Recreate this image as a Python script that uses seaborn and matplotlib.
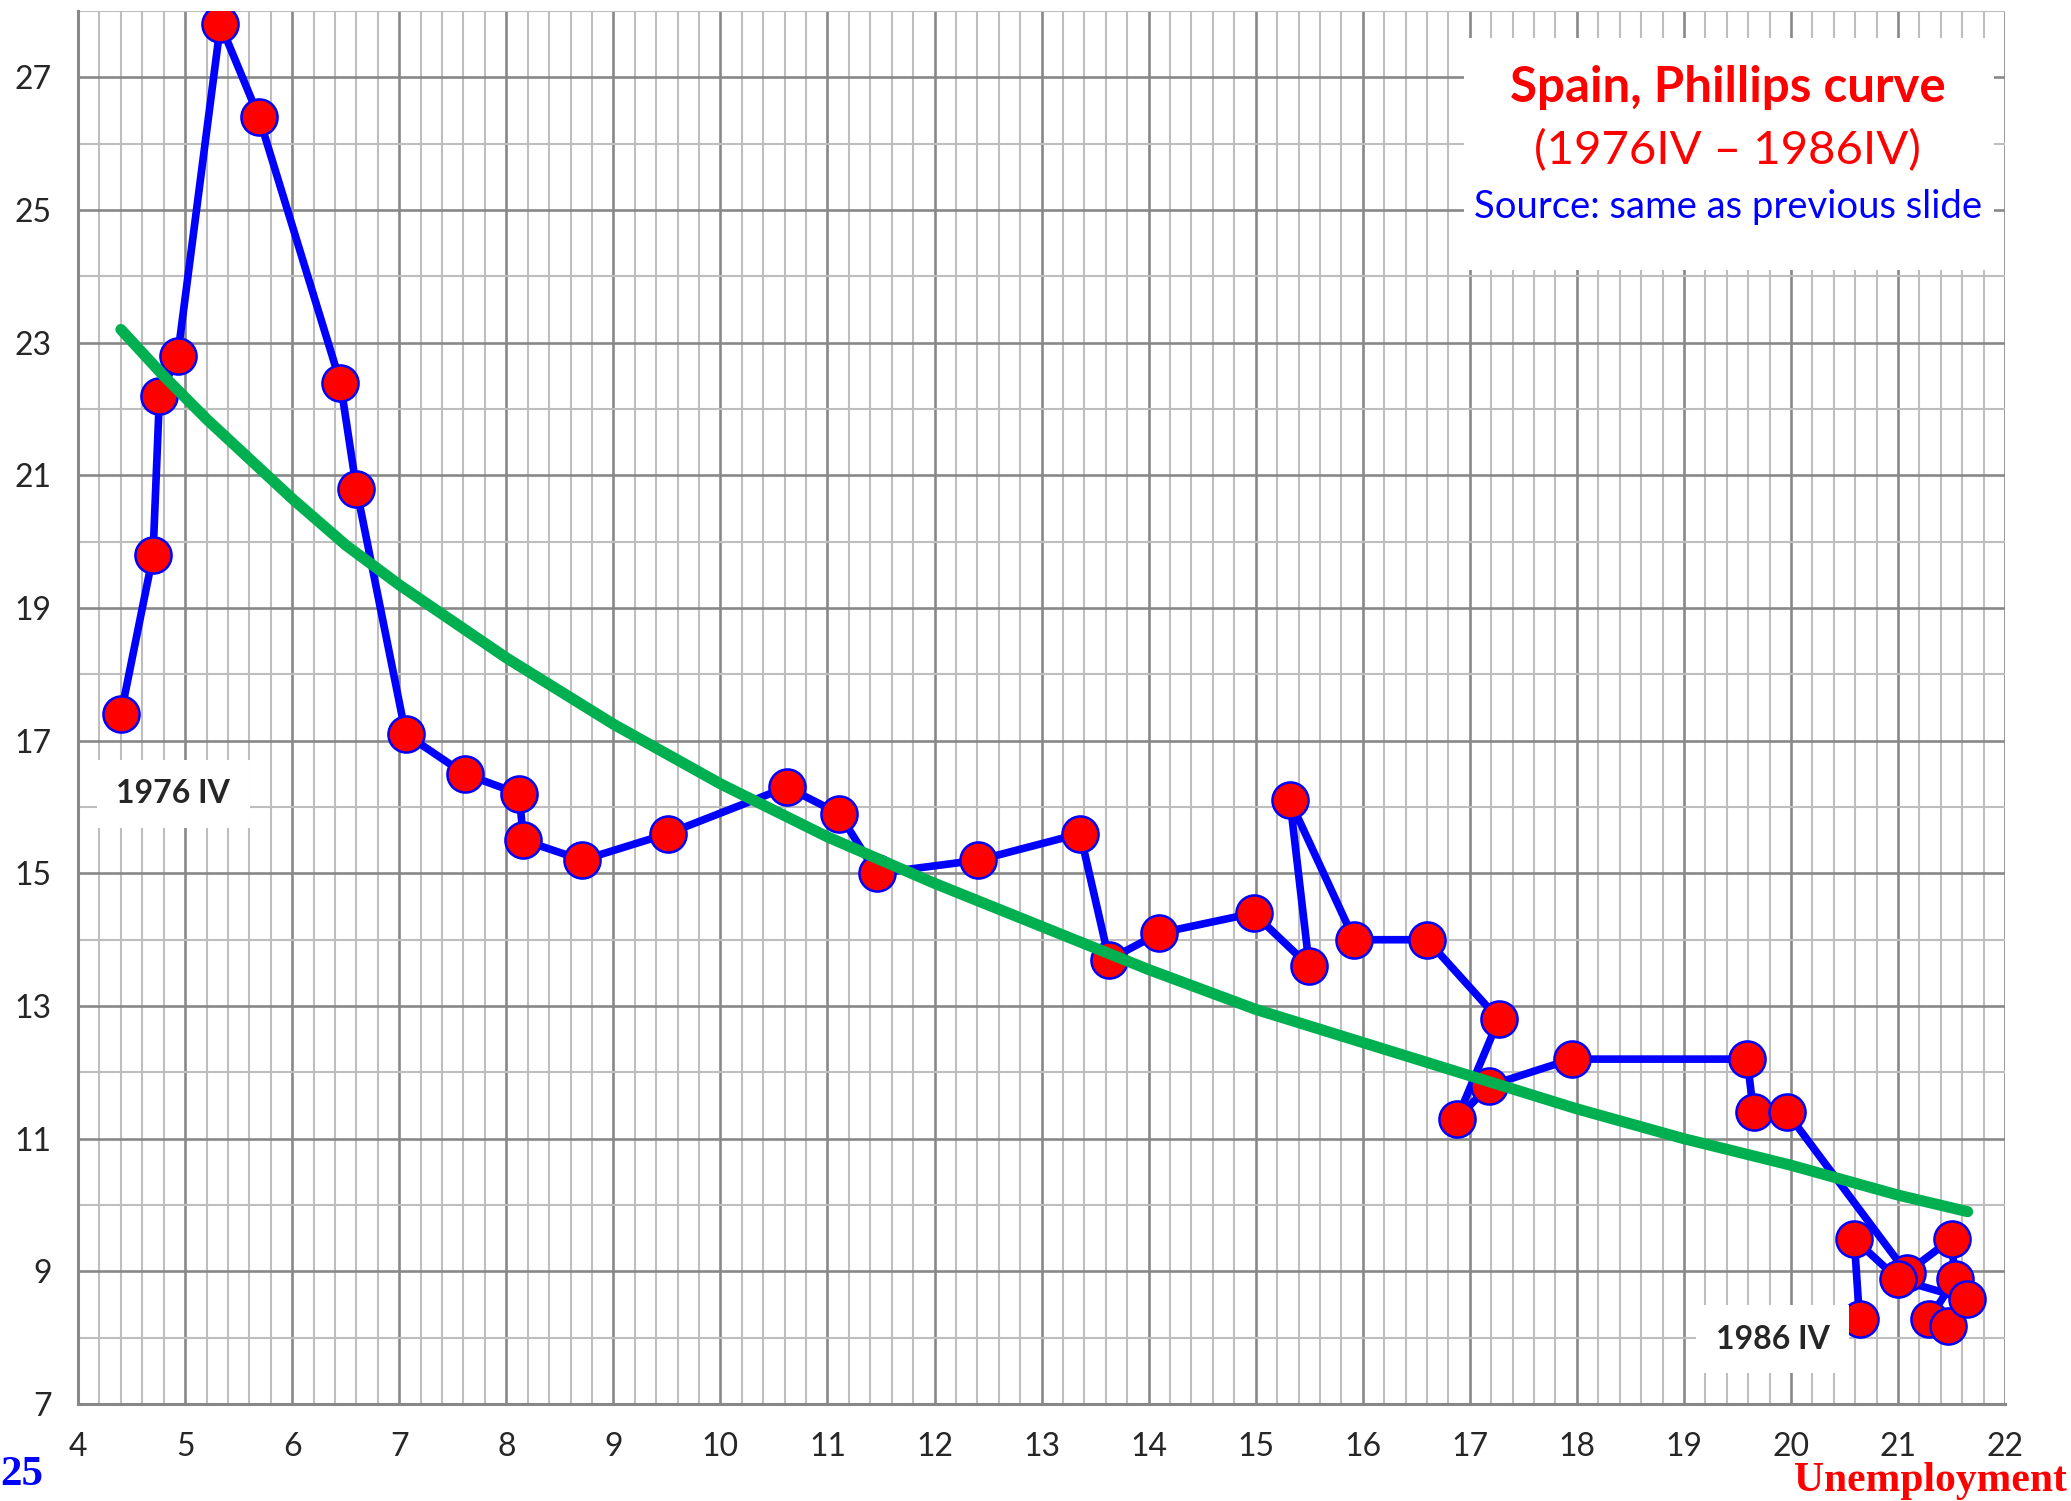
import numpy as np
import pandas as pd
import matplotlib
matplotlib.use("Agg")
import matplotlib.pyplot as plt
from matplotlib.ticker import MultipleLocator, FixedLocator
from matplotlib.patches import Rectangle
import seaborn as sns

# Spain quarterly path, 1976 IV -> 1986 IV (unemployment %, inflation %)
unemployment = [4.4, 4.7, 4.76, 4.93, 5.33, 5.69, 6.45, 6.6, 7.06, 7.61,
                8.12, 8.16, 8.71, 9.51, 10.62, 11.11, 11.46, 12.41, 13.36, 13.63,
                14.1, 14.98, 15.5, 15.32, 15.92, 16.6, 17.27, 16.88, 17.18, 17.95,
                19.59, 19.65, 19.96, 21.08, 21.5, 21.53, 21.29, 21.47, 21.64, 21.0,
                20.59, 20.64]
inflation = [17.4, 19.8, 22.2, 22.8, 27.8, 26.4, 22.4, 20.8, 17.1, 16.5,
             16.2, 15.5, 15.2, 15.6, 16.3, 15.9, 15.0, 15.2, 15.6, 13.7,
             14.1, 14.4, 13.6, 16.1, 14.0, 14.0, 12.8, 11.3, 11.8, 12.2,
             12.2, 11.4, 11.4, 8.98, 9.49, 8.88, 8.28, 8.18, 8.58, 8.88,
             9.49, 8.28]

# fitted trend
trend_x = [4.4, 4.8, 5.2, 5.6, 6.0, 6.5, 7.0, 7.5, 8.0, 9.0, 10.0, 11.0, 12.0,
           13.0, 14.0, 15.0, 16.0, 17.0, 18.0, 19.0, 20.0, 21.0, 21.65]
trend_y = [23.2, 22.5, 21.85, 21.25, 20.65, 19.95, 19.35, 18.8, 18.25, 17.25,
           16.35, 15.55, 14.85, 14.2, 13.55, 12.95, 12.45, 11.95, 11.45, 11.0,
           10.6, 10.15, 9.9]

df = pd.DataFrame({"u": unemployment, "pi": inflation})
trend = pd.DataFrame({"u": trend_x, "pi": trend_y})

sns.set_style("white")
plt.rcParams["font.family"] = ["Lato", "DejaVu Sans"]

fig = plt.figure(figsize=(20.71, 15.01), dpi=100)
ax = fig.add_axes([0.0377, 0.0646, 0.9305, 0.928])

sns.lineplot(data=df, x="u", y="pi", sort=False, estimator=None, ax=ax,
             color="#0000ff", linewidth=5.5, marker="o", markersize=26,
             markerfacecolor="#ff0000", markeredgecolor="#0000ff",
             markeredgewidth=1.8, zorder=3)
sns.lineplot(data=trend, x="u", y="pi", sort=False, estimator=None, ax=ax,
             color="#00b050", linewidth=8, solid_capstyle="round", zorder=4)

ax.set_xlim(4, 22)
ax.set_ylim(7, 28)
ax.xaxis.set_major_locator(MultipleLocator(1))
ax.xaxis.set_minor_locator(MultipleLocator(0.2))
ax.yaxis.set_major_locator(FixedLocator(np.arange(7, 28, 2)))
ax.yaxis.set_minor_locator(FixedLocator(np.arange(8, 29, 2)))
ax.grid(which="major", color="#888888", linewidth=1.9, zorder=0)
ax.grid(which="minor", color="#bebebe", linewidth=1.5, zorder=0)
ax.set_axisbelow(True)
ax.tick_params(which="major", direction="out", length=10, width=1.8,
               color="#888888", labelsize=23, pad=9)
ax.tick_params(axis="x", which="major", pad=10)
ax.tick_params(which="minor", length=0)
ax.set_xlabel("")
ax.set_ylabel("")
for side in ["top", "right"]:
    ax.spines[side].set_visible(False)
for side in ["left", "bottom"]:
    ax.spines[side].set_color("#888888")
    ax.spines[side].set_linewidth(2.2)

# title box
ax.add_patch(Rectangle((16.95, 24.1), 4.95, 3.5, facecolor="white",
                       edgecolor="none", zorder=5))
ax.text(19.41, 26.85, "Spain, Phillips curve", color="#ff0000", fontsize=35.5,
        fontweight="bold", ha="center", va="center", zorder=6)
ax.text(19.41, 25.9, "(1976IV \u2013 1986IV)", color="#ff0000", fontsize=34,
        ha="center", va="center", zorder=6)
ax.text(19.41, 25.05, "Source: same as previous slide", color="#0000ff",
        fontsize=27.5, ha="center", va="center", zorder=6)

# start / end labels
ax.text(4.89, 16.2, "1976 IV", fontsize=23, fontweight="bold", ha="center",
        va="center", zorder=6,
        bbox=dict(facecolor="white", edgecolor="none", pad=14))
ax.text(19.83, 7.98, "1986 IV", fontsize=23, fontweight="bold", ha="center",
        va="center", zorder=6,
        bbox=dict(facecolor="white", edgecolor="none", pad=14))

fig.text(0.0, 0.017, "25", color="#0000ff", fontsize=31, fontweight="bold",
         family="Liberation Serif", ha="left", va="center")
fig.text(0.998, 0.0065, "Unemployment", color="#ff0000", fontsize=30,
         fontweight="bold", family="Liberation Serif", ha="right",
         va="baseline")

fig.savefig("out.png", dpi=100)
